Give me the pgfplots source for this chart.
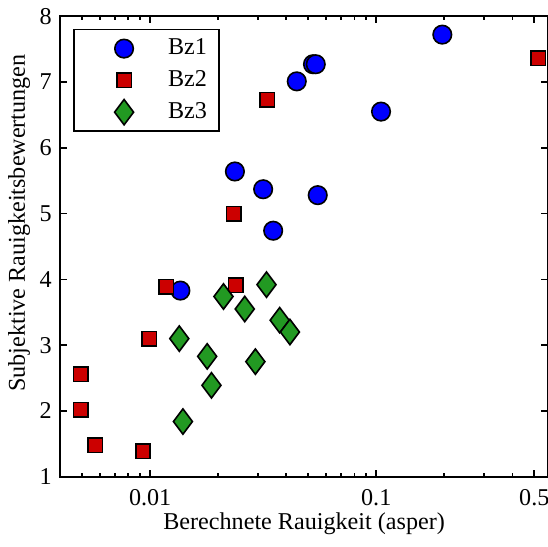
\documentclass[border=0pt]{standalone}
\usepackage{fontspec}
\setmainfont{Liberation Serif}
\usepackage{pgfplots}
\pgfplotsset{compat=1.18}
\definecolor{bzBlue}{RGB}{0,0,255}
\definecolor{bzRed}{RGB}{204,0,0}
\definecolor{bzGreen}{RGB}{34,153,34}
\newcommand{\figfont}{\fontsize{12}{14}\selectfont}

\begin{document}
\figfont
\begin{tikzpicture}[trim axis right]
\begin{axis}[
  xmode=log,
  scale only axis,
  width=242.5pt,height=229pt,
  xmin=0.004,xmax=0.575,
  ymin=1,ymax=8,
  xtick={0.01,0.1,0.5},xticklabels={0.01,0.1,0.5},
  minor xtick={0.005,0.006,0.007,0.008,0.009,0.02,0.03,0.04,0.05,0.06,0.07,0.08,0.09,0.2,0.3,0.4},
  ytick={1,2,3,4,5,6,7,8},
  axis line style={line width=1pt},
  major tick length=3.5pt,minor tick length=2pt,
  every tick/.style={black,line width=0.8pt},
  tick label style={font=\figfont},
  xticklabel style={yshift=-2pt},
  label style={font=\figfont},
  /pgf/number format/assume math mode=true,
  xlabel={Berechnete Rauigkeit (asper)},
  ylabel={Subjektive Rauigkeitsbewertungen},
  xlabel style={at={(axis description cs:0.5,-0.1025)},anchor=center,inner ysep=5.5pt},
  ylabel style={at={(axis description cs:-0.0845,0.551)},anchor=center},
  legend cell align=left,
  legend style={at={(0.027,0.972)},anchor=north west,draw=black,line width=0.6pt,
    inner xsep=6pt,inner ysep=1.5pt,column sep=4pt,
    nodes={inner sep=0pt},font=\figfont},
  legend image code/.code={\path (0pt,-7.5pt) (36pt,7.5pt); \draw[#1] plot coordinates {(18.5pt,0pt)};},
]
% Bz1
\addplot[only marks,mark=*,mark size=4.6pt,draw=black,fill=bzBlue,line width=0.8pt] coordinates {
(0.196,7.72) (0.0525,7.27) (0.054,7.27) (0.0445,7.01) (0.105,6.55)
(0.0237,5.64) (0.0316,5.37) (0.0551,5.28) (0.035,4.74) (0.0136,3.83)
};
\addlegendentry{Bz1}
% Bz2
\addplot[only marks,mark=square*,mark size=3.6pt,draw=black,fill=bzRed,line width=0.8pt] coordinates {
(0.521,7.36) (0.033,6.73) (0.0234,5.00) (0.0239,3.91) (0.0118,3.89)
(0.0099,3.10) (0.00492,2.56) (0.00492,2.02) (0.00571,1.48) (0.0093,1.39)
};
\addlegendentry{Bz2}
% Bz3
\addplot[only marks,mark=diamond*,mark size=6.3pt,draw=black,fill=bzGreen,line width=0.8pt] coordinates {
(0.0327,3.92) (0.0211,3.74) (0.0262,3.55) (0.0374,3.38) (0.0415,3.20)
(0.01345,3.10) (0.01787,2.83) (0.0292,2.75) (0.01867,2.39) (0.01396,1.84)
};
\addlegendentry{Bz3}
\end{axis}
\end{tikzpicture}
\end{document}
